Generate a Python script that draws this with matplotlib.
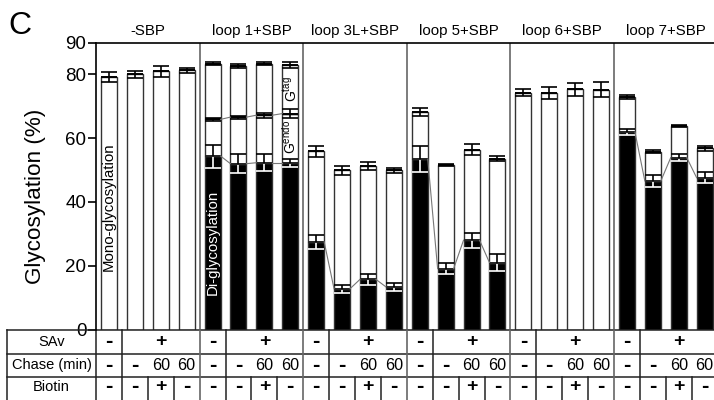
import numpy as np
import matplotlib
matplotlib.use('Agg')
import matplotlib.pyplot as plt
from matplotlib import font_manager
from matplotlib.transforms import blended_transform_factory

plt.rcParams['font.family'] = ['Liberation Sans', 'DejaVu Sans']
plt.rcParams['mathtext.fontset'] = 'custom'
plt.rcParams['mathtext.rm'] = 'Liberation Sans'

# the original uses a condensed Helvetica; take a narrow face if there is one
names = {f.name for f in font_manager.fontManager.ttflist}
if 'Liberation Sans Narrow' in names:
    narrow, k = ['Liberation Sans Narrow', 'DejaVu Sans'], 1.0
else:
    narrow, k = ['Liberation Sans', 'DejaVu Sans'], 0.9

# data (4 bars per group)
groups = ['-SBP', 'loop 1+SBP', 'loop 3L+SBP', 'loop 5+SBP', 'loop 6+SBP', 'loop 7+SBP']

# di-glycosylation (black part), 0 = none
di = np.array([0, 0, 0, 0,
               54.4, 52.0, 52.3, 52.3,
               27.5, 12.8, 15.7, 13.4,
               53.4, 19.1, 28.0, 21.0,
               0, 0, 0, 0,
               61.9, 46.6, 53.9, 47.6])
di_err = np.array([0, 0, 0, 0,
                   3.6, 3.0, 2.7, 1.3,
                   2.2, 1.3, 1.6, 1.3,
                   4.0, 1.8, 2.3, 2.7,
                   0, 0, 0, 0,
                   0.9, 2.0, 1.1, 1.8])
# top of G-endo segment (loop 1 only)
endo = np.array([np.nan] * 4 + [65.9, 66.6, 67.2, 67.7] + [np.nan] * 16)
endo_err = np.array([0] * 4 + [0.5, 0.5, 0.8, 1.5] + [0] * 16)
# total glycosylation
total = np.array([79.2, 80.0, 81.0, 81.3,
                  83.4, 82.6, 83.4, 82.9,
                  55.9, 49.9, 51.2, 49.9,
                  68.2, 51.5, 56.4, 53.6,
                  74.3, 74.2, 75.3, 75.2,
                  72.9, 55.7, 63.7, 56.9])
total_err = np.array([1.5, 1.1, 1.7, 0.8,
                      0.6, 0.7, 0.5, 0.9,
                      1.8, 1.5, 1.2, 0.8,
                      1.2, 0.3, 1.7, 0.8,
                      1.2, 2.0, 2.0, 2.3,
                      0.5, 0.5, 0.3, 0.8])

sav = ['-', '+']
chase = ['-', '-', '60', '60']
biotin = ['-', '-', '+', '-']

W, H = 714, 400
x0, x1 = 96, 717.6
y_top, y_zero = 42.5, 329.5

fig = plt.figure(figsize=(W / 100, H / 100), dpi=100)
ax = fig.add_axes([x0 / W, 1 - y_zero / H, (x1 - x0) / W, (y_zero - y_top) / H])

n = len(total)
x = np.arange(n) + 0.5
w = 0.62
edge = dict(edgecolor='#333333', linewidth=1.0)

has_di = di > 0
has_endo = ~np.isnan(endo)
ax.bar(x[has_di], di[has_di], w, color='black', **edge)
ax.bar(x[has_endo], endo[has_endo] - di[has_endo], w, bottom=di[has_endo], color='white', **edge)
base = np.where(has_endo, endo, di)
ax.bar(x, total - base, w, bottom=base, color='white', **edge)


def err(xc, v, e, under_black):
    kw = dict(fmt='none', capsize=5.6, elinewidth=1.2, capthick=1.2)
    ax.errorbar(xc, v, yerr=[[e], [0]], ecolor='white' if under_black else 'black', **kw)
    ax.errorbar(xc, v, yerr=[[0], [e]], ecolor='black', **kw)


for i in range(n):
    if has_di[i]:
        err(x[i], di[i], di_err[i], True)
    if has_endo[i]:
        err(x[i], endo[i], endo_err[i], False)
    err(x[i], total[i], total_err[i], False)

# thin lines joining the segment tops within a group
for g in range(len(groups)):
    for i in range(3):
        a, b = 4 * g + i, 4 * g + i + 1
        if has_di[a]:
            ax.plot([x[a] + w / 2, x[b] - w / 2], [di[a], di[b]], color='#777777', lw=0.8)
        if has_endo[a]:
            ax.plot([x[a] + w / 2, x[b] - w / 2], [endo[a], endo[b]], color='#777777', lw=0.8)

for g in range(1, len(groups)):
    ax.axvline(4 * g, color='#666666', lw=1.2)

ax.set_xlim(0, n)
ax.set_ylim(0, 90)
ax.set_yticks([0, 20, 40, 60, 80, 90])
ax.set_xticks([])
ax.tick_params(axis='y', direction='out', length=6, width=1.2, pad=1)
for t in ax.get_yticklabels():
    t.set_fontfamily(narrow)
    t.set_fontsize(15 * k)
ax.spines['right'].set_visible(False)
ax.spines['bottom'].set_visible(False)
ax.spines['left'].set_linewidth(1.2)
ax.spines['top'].set_linewidth(1.2)

ax.text(0.5, 38.6, 'Mono-glycosylation', rotation=90, ha='center', va='center', fontsize=12 * k, family=narrow)
ax.text(4.5, 27.3, 'Di-glycosylation', rotation=90, ha='center', va='center', fontsize=12 * k,
        family=narrow, color='white')
ax.text(7.5, 60.4, r'G$^{\mathrm{endo}}$', rotation=90, ha='center', va='center', fontsize=10)
ax.text(7.5, 75.3, r'G$^{\mathrm{tag}}$', rotation=90, ha='center', va='center', fontsize=10)

fig.text(36 / W, 1 - 196 / H, 'Glycosylation (%)', rotation=90, ha='center', va='center',
         fontsize=18 * k, family=narrow)
fig.text(8 / W, 1 - 34 / H, 'C', fontsize=23, va='baseline')

tb = blended_transform_factory(ax.transData, fig.transFigure)
for g, name in enumerate(groups):
    ax.text(4 * g + 2, 1 - 35 / H, name, transform=tb, ha='center', va='baseline',
            fontsize=12 * k, family=narrow, clip_on=False)

# table under the bars
px = (x1 - x0) / n
xl = (7 - x0) / px
ry = [1 - 330 / H, 1 - 353.5 / H, 1 - 377 / H, 0]
line = dict(transform=tb, clip_on=False, color='#222222', lw=1.1)
for yy in ry[:3]:
    ax.plot([xl, n], [yy, yy], **line)
ax.plot([xl, xl], [0, ry[0]], **line)
ax.plot([0, 0], [0, ry[0]], **line)
for g in range(len(groups)):
    if g > 0:
        ax.plot([4 * g, 4 * g], [0, ry[0]], transform=tb, clip_on=False, color='#666666', lw=1.2)
    ax.plot([4 * g + 1] * 2, [0, ry[0]], **line)
    for j in (2, 3):
        ax.plot([4 * g + j] * 2, [0, ry[2]], **line)

rc = [(ry[0] + ry[1]) / 2, (ry[1] + ry[2]) / 2, (ry[2] + ry[3]) / 2 + 0.004]
for lab, yy in zip(['SAv', 'Chase (min)', 'Biotin'], rc):
    ax.text(xl / 2, yy, lab, transform=tb, ha='center', va='center', fontsize=11.7 * k,
            family=narrow, clip_on=False)


def cell(xc, yy, s):
    if s == '-':
        ax.text(xc, yy, s, transform=tb, ha='center', va='center', clip_on=False,
                fontsize=16, fontweight='bold')
    elif s == '+':
        ax.text(xc, yy, s, transform=tb, ha='center', va='center', clip_on=False,
                fontsize=14, fontweight='bold')
    else:
        ax.text(xc, yy, s, transform=tb, ha='center', va='center', clip_on=False,
                fontsize=13 * k, family=narrow)


for g in range(len(groups)):
    cell(4 * g + 0.5, rc[0], sav[0])
    cell(4 * g + 2.5, rc[0], sav[1])
    for i in range(4):
        cell(4 * g + i + 0.5, rc[1], chase[i])
        cell(4 * g + i + 0.5, rc[2], biotin[i])

fig.savefig('out.png', dpi=100)
